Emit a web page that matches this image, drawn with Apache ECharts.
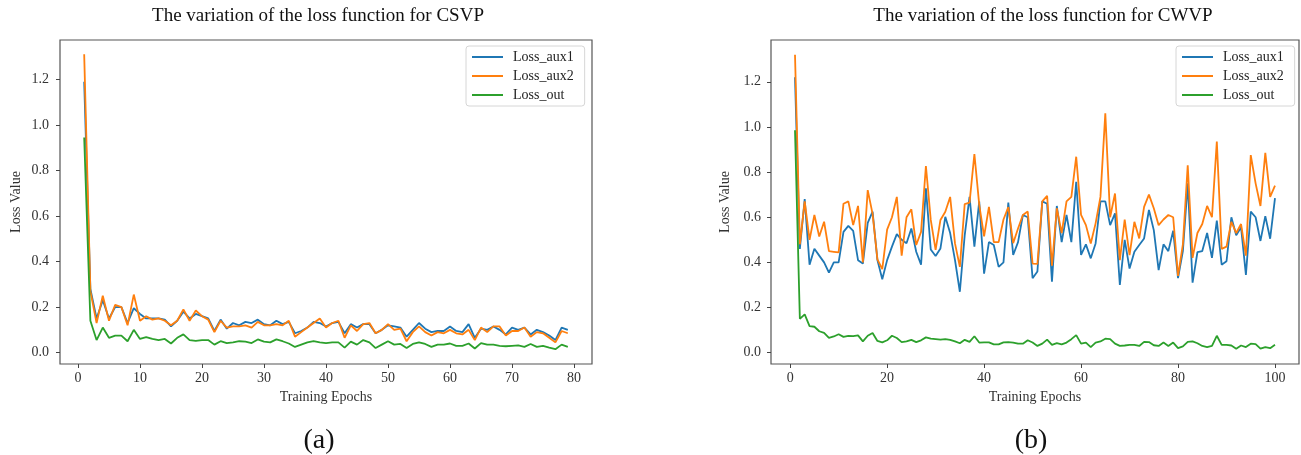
<!DOCTYPE html>
<html>
<head>
<meta charset="utf-8">
<title>Loss function variation</title>
<script src="https://cdn.jsdelivr.net/npm/echarts@6/dist/echarts.min.js"></script>
<style>
  html, body { margin: 0; padding: 0; background: #fff; }
  #chart { width: 1301px; height: 455px; }
</style>
</head>
<body>
<div id="chart"></div>
<script>
// (a) CSVP, epochs 1..79
const csvpAux1 = [
  1.19, 0.28, 0.15, 0.23, 0.15, 0.20, 0.20, 0.13, 0.195, 0.17,
  0.15, 0.15, 0.15, 0.145, 0.115, 0.14, 0.18, 0.15, 0.17, 0.16,
  0.15, 0.095, 0.145, 0.105, 0.13, 0.12, 0.135, 0.13, 0.145, 0.125,
  0.12, 0.14, 0.125, 0.135, 0.085, 0.095, 0.11, 0.135, 0.13, 0.115,
  0.13, 0.135, 0.085, 0.125, 0.11, 0.125, 0.125, 0.085, 0.10, 0.12,
  0.115, 0.11, 0.07, 0.10, 0.13, 0.105, 0.09, 0.095, 0.095, 0.115,
  0.095, 0.09, 0.125, 0.065, 0.105, 0.10, 0.115, 0.10, 0.08, 0.11,
  0.10, 0.11, 0.08, 0.10, 0.09, 0.075, 0.055, 0.11, 0.10
]
const csvpAux2 = [
  1.31, 0.27, 0.13, 0.25, 0.14, 0.21, 0.20, 0.12, 0.255, 0.14,
  0.16, 0.145, 0.15, 0.14, 0.12, 0.14, 0.19, 0.14, 0.185, 0.16,
  0.145, 0.09, 0.14, 0.11, 0.115, 0.115, 0.12, 0.11, 0.135, 0.12,
  0.12, 0.125, 0.12, 0.14, 0.07, 0.09, 0.11, 0.13, 0.15, 0.11,
  0.13, 0.14, 0.065, 0.12, 0.095, 0.125, 0.13, 0.085, 0.10, 0.125,
  0.10, 0.105, 0.05, 0.09, 0.115, 0.09, 0.075, 0.09, 0.085, 0.10,
  0.085, 0.08, 0.10, 0.055, 0.11, 0.09, 0.115, 0.115, 0.075, 0.095,
  0.095, 0.11, 0.07, 0.09, 0.085, 0.065, 0.045, 0.095, 0.085
]
const csvpOut = [
  0.945, 0.14, 0.055, 0.11, 0.065, 0.075, 0.075, 0.05, 0.10, 0.06,
  0.068, 0.06, 0.055, 0.06, 0.04, 0.065, 0.08, 0.055, 0.052, 0.055,
  0.055, 0.035, 0.05, 0.042, 0.045, 0.05, 0.048, 0.042, 0.058, 0.048,
  0.045, 0.058, 0.05, 0.04, 0.025, 0.035, 0.045, 0.05, 0.045, 0.042,
  0.045, 0.045, 0.022, 0.048, 0.035, 0.055, 0.045, 0.02, 0.035, 0.05,
  0.035, 0.038, 0.02, 0.038, 0.045, 0.038, 0.025, 0.035, 0.035, 0.04,
  0.03, 0.03, 0.04, 0.018, 0.042, 0.035, 0.035, 0.03, 0.028, 0.03,
  0.032, 0.025, 0.038, 0.025, 0.03, 0.022, 0.015, 0.035, 0.025
]

// (b) CWVP, epochs 1..100
const cwvpAux1 = [
  1.22, 0.46, 0.68, 0.39, 0.46, 0.43, 0.40, 0.355, 0.40, 0.40,
  0.535, 0.562, 0.54, 0.41, 0.395, 0.575, 0.625, 0.41, 0.325, 0.41,
  0.47, 0.525, 0.50, 0.485, 0.55, 0.447, 0.39, 0.728, 0.457, 0.428,
  0.462, 0.602, 0.53, 0.41, 0.27, 0.52, 0.69, 0.47, 0.67, 0.35,
  0.49, 0.477, 0.38, 0.40, 0.665, 0.433, 0.49, 0.61, 0.60, 0.33,
  0.36, 0.67, 0.66, 0.314, 0.65, 0.49, 0.61, 0.49, 0.757, 0.433,
  0.48, 0.418, 0.484, 0.67, 0.67, 0.565, 0.617, 0.30, 0.50, 0.373,
  0.447, 0.477, 0.506, 0.632, 0.543, 0.366, 0.48, 0.45, 0.54, 0.33,
  0.45, 0.75, 0.31, 0.445, 0.45, 0.53, 0.42, 0.585, 0.39, 0.405,
  0.60, 0.52, 0.555, 0.345, 0.625, 0.60, 0.495, 0.605, 0.505, 0.685
]
const cwvpAux2 = [
  1.32, 0.48, 0.67, 0.50, 0.61, 0.515, 0.58, 0.45, 0.447, 0.444,
  0.66, 0.67, 0.565, 0.65, 0.40, 0.72, 0.615, 0.413, 0.37, 0.545,
  0.60, 0.69, 0.43, 0.60, 0.635, 0.477, 0.535, 0.827, 0.588, 0.455,
  0.588, 0.624, 0.69, 0.484, 0.38, 0.658, 0.665, 0.88, 0.655, 0.515,
  0.646, 0.49, 0.49, 0.59, 0.645, 0.485, 0.55, 0.61, 0.625, 0.395,
  0.393, 0.67, 0.695, 0.385, 0.64, 0.53, 0.67, 0.69, 0.868, 0.61,
  0.565, 0.484, 0.573, 0.69, 1.06, 0.60, 0.705, 0.41, 0.59, 0.432,
  0.58, 0.506, 0.646, 0.70, 0.64, 0.565, 0.59, 0.61, 0.60, 0.34,
  0.48, 0.83, 0.42, 0.53, 0.57, 0.65, 0.60, 0.935, 0.46, 0.47,
  0.58, 0.53, 0.57, 0.43, 0.875, 0.75, 0.65, 0.885, 0.69, 0.74
]
const cwvpOut = [
  0.985, 0.15, 0.17, 0.118, 0.115, 0.095, 0.088, 0.066, 0.072, 0.082,
  0.07, 0.075, 0.073, 0.077, 0.05, 0.075, 0.087, 0.052, 0.046, 0.055,
  0.075, 0.065, 0.047, 0.05, 0.057, 0.047, 0.055, 0.068, 0.062, 0.06,
  0.058, 0.06, 0.057, 0.05, 0.042, 0.057, 0.048, 0.073, 0.045, 0.046,
  0.046, 0.037, 0.037, 0.046, 0.047, 0.045, 0.04, 0.04, 0.055, 0.045,
  0.03, 0.04, 0.058, 0.035, 0.042, 0.037, 0.045, 0.06, 0.078, 0.04,
  0.045, 0.025, 0.045, 0.05, 0.062, 0.06, 0.04, 0.03, 0.032, 0.035,
  0.035, 0.03, 0.048, 0.047, 0.033, 0.03, 0.045, 0.03, 0.045, 0.02,
  0.028, 0.048, 0.05, 0.042, 0.03, 0.025, 0.03, 0.075, 0.035, 0.035,
  0.032, 0.018, 0.032, 0.025, 0.04, 0.038, 0.018, 0.025, 0.02, 0.035
]

const seriesNames = ['Loss_aux1', 'Loss_aux2', 'Loss_out']
const xTicksA = [0, 10, 20, 30, 40, 50, 60, 70, 80]
const xTicksB = [0, 20, 40, 60, 80, 100]
const yTicks = [0.0, 0.2, 0.4, 0.6, 0.8, 1.0, 1.2]

const colors = ['#1f77b4', '#ff7f0e', '#2ca02c']
const serif = 'Liberation Serif, Times New Roman, serif'

// pairs [epoch, value], epochs start from 1
function toPairs(arr) {
  return arr.map((v, i) => [i + 1, v])
}

function makeX(idx, max, ticks) {
  return {
    type: 'value', gridIndex: idx, min: -(max - 1) * 0.05 + 1, max: max + (max - 1) * 0.05,
    name: 'Training Epochs', nameLocation: 'middle', nameGap: 24,
    nameTextStyle: {fontFamily: serif, fontSize: 14, color: '#333'},
    axisLine: {show: false, onZero: false},
    axisTick: {show: true, length: 4, customValues: ticks, lineStyle: {color: '#444'}},
    axisLabel: {customValues: ticks, margin: 7, fontFamily: serif, fontSize: 14, color: '#333'},
    splitLine: {show: false}
  }
}

function makeY(idx, max, gap, margin) {
  return {
    type: 'value', gridIndex: idx, min: -0.05, max: max,
    name: 'Loss Value', nameLocation: 'middle', nameGap: gap,
    nameTextStyle: {fontFamily: serif, fontSize: 14, color: '#333'},
    axisLine: {show: false, onZero: false},
    axisTick: {show: true, length: 4, customValues: yTicks, lineStyle: {color: '#444'}},
    axisLabel: {
      customValues: yTicks, margin: margin, fontFamily: serif, fontSize: 14, color: '#333',
      formatter: v => v.toFixed(1)
    },
    splitLine: {show: false}
  }
}

function makeLegend(left) {
  return {
    data: seriesNames, orient: 'vertical', left: left, top: 46,
    padding: [4, 11, 4, 6], itemGap: 5, itemWidth: 31, itemHeight: 2, icon: 'rect',
    borderColor: '#d6d6d6', borderWidth: 1, borderRadius: 3, backgroundColor: '#fff',
    textStyle: {fontFamily: serif, fontSize: 14, color: '#222', padding: [0, 0, 0, 5]}
  }
}

function makeSeries(name, data, idx, ci) {
  return {
    name: name, type: 'line', xAxisIndex: idx, yAxisIndex: idx,
    data: toPairs(data), showSymbol: false, symbol: 'none',
    color: colors[ci], lineStyle: {width: 1.8, color: colors[ci]}
  }
}

const chart = echarts.init(document.getElementById('chart'))
chart.setOption({
  animation: false,
  backgroundColor: '#fff',
  title: [
    {text: 'The variation of the loss function for CSVP', left: 318, top: 7, textAlign: 'center', padding: 0,
      textStyle: {fontFamily: serif, fontSize: 19, fontWeight: 'normal', color: '#111'}},
    {text: 'The variation of the loss function for CWVP', left: 1043, top: 7, textAlign: 'center', padding: 0,
      textStyle: {fontFamily: serif, fontSize: 19, fontWeight: 'normal', color: '#111'}},
    {text: '(a)', left: 319, top: 427, textAlign: 'center', padding: 0,
      textStyle: {fontFamily: serif, fontSize: 28, fontWeight: 'normal', color: '#111'}},
    {text: '(b)', left: 1031, top: 427, textAlign: 'center', padding: 0,
      textStyle: {fontFamily: serif, fontSize: 28, fontWeight: 'normal', color: '#111'}}
  ],
  legend: [makeLegend(466), makeLegend(1176)],
  grid: [
    {left: 60, top: 40, width: 532, height: 324, show: true, borderColor: '#555', borderWidth: 1.2},
    {left: 771, top: 40, width: 528, height: 324, show: true, borderColor: '#555', borderWidth: 1.2}
  ],
  xAxis: [makeX(0, 79, xTicksA), makeX(1, 100, xTicksB)],
  yAxis: [makeY(0, 1.373, 37, 11), makeY(1, 1.385, 39, 10)],
  series: [
    makeSeries('Loss_aux1', csvpAux1, 0, 0),
    makeSeries('Loss_aux2', csvpAux2, 0, 1),
    makeSeries('Loss_out', csvpOut, 0, 2),
    makeSeries('Loss_aux1', cwvpAux1, 1, 0),
    makeSeries('Loss_aux2', cwvpAux2, 1, 1),
    makeSeries('Loss_out', cwvpOut, 1, 2)
  ]
})
</script>
</body>
</html>
